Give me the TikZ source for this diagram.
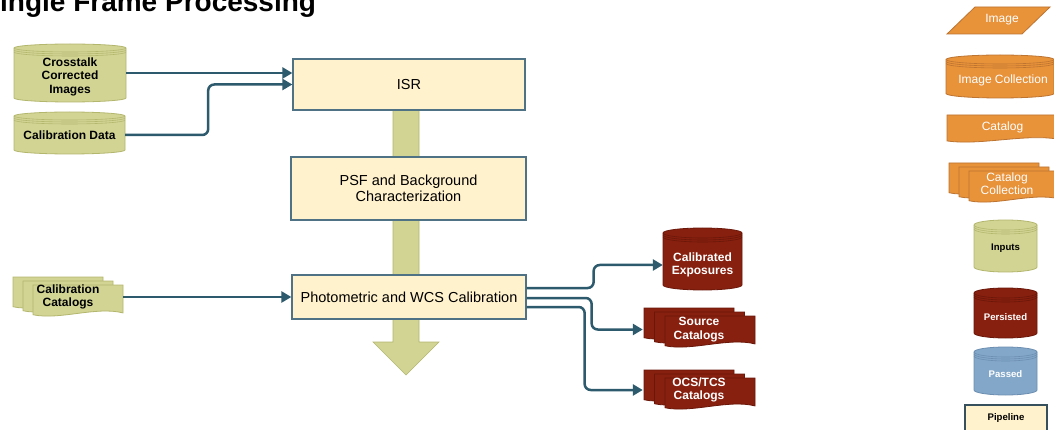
\documentclass[tikz,border=0pt]{standalone}
\usepackage{fontspec}
\setmainfont{Liberation Sans}
\usetikzlibrary{arrows.meta,calc}
\definecolor{ingreen}{HTML}{D1D493}
\definecolor{ingreenD}{HTML}{B3B76E}
\definecolor{boxfill}{HTML}{FFF2CC}
\definecolor{boxedge}{HTML}{4F7385}
\definecolor{conncol}{HTML}{2D5A6C}
\definecolor{persred}{HTML}{87200F}
\definecolor{persredD}{HTML}{6A170A}
\definecolor{legor}{HTML}{E8923A}
\definecolor{legorD}{HTML}{BD7430}
\definecolor{passblue}{HTML}{83A7C9}
\definecolor{passblueD}{HTML}{6C8FB1}
\tikzset{
 pipebox/.style={draw=boxedge, fill=boxfill, line width=1.3pt, inner sep=0pt, align=center, font=\fontsize{14.5}{16.5}\selectfont},
 conn/.style={draw=conncol, line width=2.5pt, rounded corners=6pt, -{Triangle[length=10pt,width=11pt]}},
 lbl/.style={inner sep=0pt, align=center, font=\bfseries\fontsize{12}{13.5}\selectfont},
 wlbl/.style={lbl, text=white},
 legtxt/.style={inner sep=0pt, align=center, text=white, font=\fontsize{12}{13}\selectfont},
 legsmall/.style={inner sep=0pt, align=center, font=\bfseries\fontsize{9.6}{11}\selectfont},
}
\newcommand{\drum}[7]{%
 \pgfmathsetmacro{\dmR}{#1+#3}%
 \pgfmathsetmacro{\dmB}{#2+#4-#5}%
 \pgfmathsetmacro{\dmT}{#2+#5}%
 \pgfmathsetmacro{\dmRx}{#3/2}%
 \filldraw[fill=#6,draw=#7,line width=0.8pt] (#1,\dmT) -- (#1,\dmB) arc[start angle=180,end angle=360,x radius=\dmRx pt,y radius=#5pt] -- (\dmR,\dmT) arc[start angle=0,end angle=180,x radius=\dmRx pt,y radius=#5pt] -- cycle;
 \foreach \k in {0,2,4}{\draw[draw=#7,line width=0.6pt] (#1,{\dmT+\k}) arc[start angle=180,end angle=360,x radius=\dmRx pt,y radius=#5pt];}%
}
\newcommand{\docshape}[6]{%
 \pgfmathsetmacro{\dsR}{#1+#3}%
 \pgfmathsetmacro{\dsB}{#2+#4}%
 \pgfmathsetmacro{\dsCa}{#1+0.3*#3}%
 \pgfmathsetmacro{\dsCb}{#1+0.7*#3}%
 \pgfmathsetmacro{\dsYa}{\dsB+0.14*#4}%
 \pgfmathsetmacro{\dsYc}{\dsB-0.32*#4}%
 \pgfmathsetmacro{\dsYl}{\dsB-0.04*#4}%
 \pgfmathsetmacro{\dsYr}{\dsB-0.1*#4}%
 \filldraw[fill=#5,draw=#6,line width=0.8pt] (#1,#2) -- (\dsR,#2) -- (\dsR,\dsYr) .. controls (\dsCb,\dsYc) and (\dsCa,\dsYa) .. (#1,\dsYl) -- cycle;%
}
\begin{document}
\begin{tikzpicture}[x=1pt,y=-1pt]
\useasboundingbox (0,0) rectangle (1054,430);
\clip (0,0) rectangle (1054,430);
\fill[white] (0,0) rectangle (1054,430);
% title
\node[anchor=base west,inner sep=0pt,font=\bfseries\fontsize{28}{30}\selectfont] (title) at (-18.7,12) {Single Frame Processing};
% big flow arrow
\filldraw[fill=ingreen,draw=ingreenD,line width=0.6pt] (393,110) -- (393,342) -- (373,342) -- (406,375) -- (439,342) -- (419,342) -- (419,110) -- cycle;
% pipeline boxes
\node[pipebox,minimum width=232,minimum height=51] (isr) at (409,84.5) {ISR};
\node[pipebox,minimum width=235,minimum height=63] (psf) at (408.5,188.5) {PSF and Background\\Characterization};
\node[pipebox,minimum width=234,minimum height=44] (photo) at (409,297) {Photometric and WCS Calibration};
% inputs
\drum{14}{44}{112}{58}{4}{ingreen}{ingreenD}
\drum{14}{112}{111}{42}{4}{ingreen}{ingreenD}
\docshape{13}{277}{90}{31}{ingreen}{ingreenD}
\docshape{23}{281}{90}{31}{ingreen}{ingreenD}
\docshape{33}{285}{90}{31}{ingreen}{ingreenD}
\node[lbl,minimum width=112,minimum height=50] (cross) at (70,76.5) {Crosstalk\\Corrected\\Images};
\node[lbl,minimum width=111,minimum height=36] (caldata) at (69.5,135) {Calibration Data};
\node[lbl,minimum width=110,minimum height=34] (calcat) at (68,297) {Calibration\\Catalogs};
% outputs
\drum{663}{228}{79}{62}{5}{persred}{persredD}
\docshape{644}{308}{90}{31}{persred}{persredD}
\docshape{654.5}{312}{90}{31}{persred}{persredD}
\docshape{665}{316}{90}{31}{persred}{persredD}
\docshape{644}{370}{90}{31}{persred}{persredD}
\docshape{654.5}{374}{90}{31}{persred}{persredD}
\docshape{665}{378}{90}{31}{persred}{persredD}
\node[wlbl,minimum width=79,minimum height=44] (calexp) at (702.5,265) {Calibrated\\Exposures};
\node[wlbl,minimum width=112,minimum height=34] (srccat) at (699,329.5) {Source\\Catalogs};
\node[wlbl,minimum width=112,minimum height=34] (ocscat) at (699,390) {OCS/TCS\\Catalogs};
% connectors
\coordinate (crossout) at ([yshift=3.5pt]cross.east);
\draw[conn] (crossout) -- (crossout -| isr.west);
\draw[conn] (caldata.east) -- ++(83,0) |- (isr.west);
\draw[conn] (calcat.east) -- (calcat.east -| photo.west);
\coordinate (po1) at ([yshift=9pt]photo.east);
\coordinate (po2) at ([yshift=-1pt]photo.east);
\coordinate (po3) at ([yshift=-10pt]photo.east);
\draw[conn] (po1) -- ++(67,0) |- (calexp.west);
\draw[conn] (po2) -- ++(65,0) |- (srccat.west);
\draw[conn] (po3) -- ++(58,0) |- (ocscat.west);
% legend
\filldraw[fill=legor,draw=legorD,line width=0.8pt] (947,34) -- (975,7) -- (1050,7) -- (1022,34) -- cycle;
\node[legtxt] (lgimage) at (1002,20) {Image};
\drum{946}{55}{108}{43}{4.5}{legor}{legorD}
\node[legtxt] (lgimcoll) at (1003,80) {Image Collection};
\docshape{947}{115}{112}{27}{legor}{legorD}
\node[legtxt] (lgcat) at (1002.5,127) {Catalog};
\docshape{949}{163}{90}{31}{legor}{legorD}
\docshape{959}{167}{90}{31}{legor}{legorD}
\docshape{969}{171}{90}{31}{legor}{legorD}
\node[legtxt] (lgcatcoll) at (1007,184) {Catalog\\Collection};
\drum{974}{220}{63}{52}{5}{ingreen}{ingreenD}
\node[legsmall] (lginputs) at (1005.5,248) {Inputs};
\drum{974}{288}{63}{50}{5}{persred}{persredD}
\node[legsmall,text=white] (lgpers) at (1005.5,317) {Persisted};
\drum{974}{347}{63}{48}{5}{passblue}{passblueD}
\node[legsmall,text=white] (lgpassed) at (1005.5,374) {Passed};
\node[pipebox,font=\bfseries\fontsize{9.6}{11}\selectfont,draw=boxedge!70!black,minimum width=82,minimum height=26] (lgpipe) at (1006,418) {Pipeline};
\end{tikzpicture}
\end{document}
